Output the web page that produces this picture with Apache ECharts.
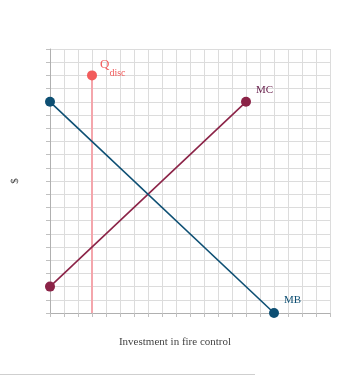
<!DOCTYPE html>
<html>
<head>
<meta charset="utf-8">
<style>
html,body{margin:0;padding:0;background:#fff;}
#c{width:359px;height:376px;}
</style>
<script src="https://cdn.jsdelivr.net/npm/echarts@6/dist/echarts.min.js"></script>
</head>
<body>
<div id="c"></div>
<script>
// Data
var mbX = [0, 16], mbY = [16, 0];
var mcX = [0, 14], mcY = [2, 16];
var qX = [3, 3], qY = [0, 18];
var xName = 'Investment in fire control';
var yName = '$';

var FONT = '"Liberation Serif","DejaVu Serif",serif';
function pts(xs, ys) { return xs.map(function (x, i) { return [x, ys[i]]; }); }

var chart = echarts.init(document.getElementById('c'), null, {renderer: 'canvas'});
var axisCommon = {
  type: 'value', min: 0, max: 20, interval: 1,
  axisLabel: {show: false},
  axisLine: {show: true, lineStyle: {color: '#b0b0b0', width: 1}},
  axisTick: {show: true, length: 4, lineStyle: {color: '#c0c0c0'}},
  splitLine: {show: true, lineStyle: {color: '#dcdcdc', width: 1}}
};
var mbData = pts(mbX, mbY);
var mcData = pts(mcX, mcY);
var qData = pts(qX, qY);
mbData[1] = {value: mbData[1], label: {show: true, formatter: 'MB', position: 'right', offset: [0, -13], color: '#0d4f73', fontFamily: FONT, fontSize: 11}};
mcData[1] = {value: mcData[1], label: {show: true, formatter: 'MC', position: 'right', offset: [0, -12], color: '#6b2450', fontFamily: FONT, fontSize: 11}};
qData[0] = {value: qData[0], symbol: 'none'};
qData[1] = {value: qData[1], label: {show: true, formatter: '{q|Q}{s|disc}', position: 'right', offset: [-2, -8],
  rich: {q: {fontSize: 13, color: '#f25c5c', fontFamily: FONT, padding: [0, 0, 6, 0]}, s: {fontSize: 10, color: '#f25c5c', fontFamily: FONT, padding: [12, 0, 0, 0]}}}};

chart.setOption({
  animation: false,
  grid: {left: 50, right: 29, top: 49, bottom: 63, containLabel: false, outerBoundsMode: 'none'},
  xAxis: Object.assign({}, axisCommon, {
    name: xName, nameLocation: 'middle', nameGap: 24,
    nameTextStyle: {color: '#444', fontFamily: FONT, fontSize: 11, padding: [0, 30, 0, 0]}
  }),
  yAxis: Object.assign({}, axisCommon, {
    name: yName, nameLocation: 'middle', nameGap: 29,
    nameTextStyle: {color: '#444', fontFamily: FONT, fontSize: 11}
  }),
  graphic: [{type: 'rect', left: 0, top: 374, shape: {width: 255, height: 1}, style: {fill: '#cfcfcf'}}],
  series: [
    {type: 'line', data: qData, symbol: 'circle', symbolSize: 10, z: 3,
      lineStyle: {color: '#f4a6ac', width: 2}, itemStyle: {color: '#f25c5c'}},
    {type: 'line', data: mcData, symbol: 'circle', symbolSize: 10, z: 4,
      lineStyle: {color: '#8b2347', width: 1.6}, itemStyle: {color: '#8b2347'}},
    {type: 'line', data: mbData, symbol: 'circle', symbolSize: 10, z: 5,
      lineStyle: {color: '#0d4f73', width: 1.6}, itemStyle: {color: '#0d4f73'}}
  ]
});
</script>
</body>
</html>
